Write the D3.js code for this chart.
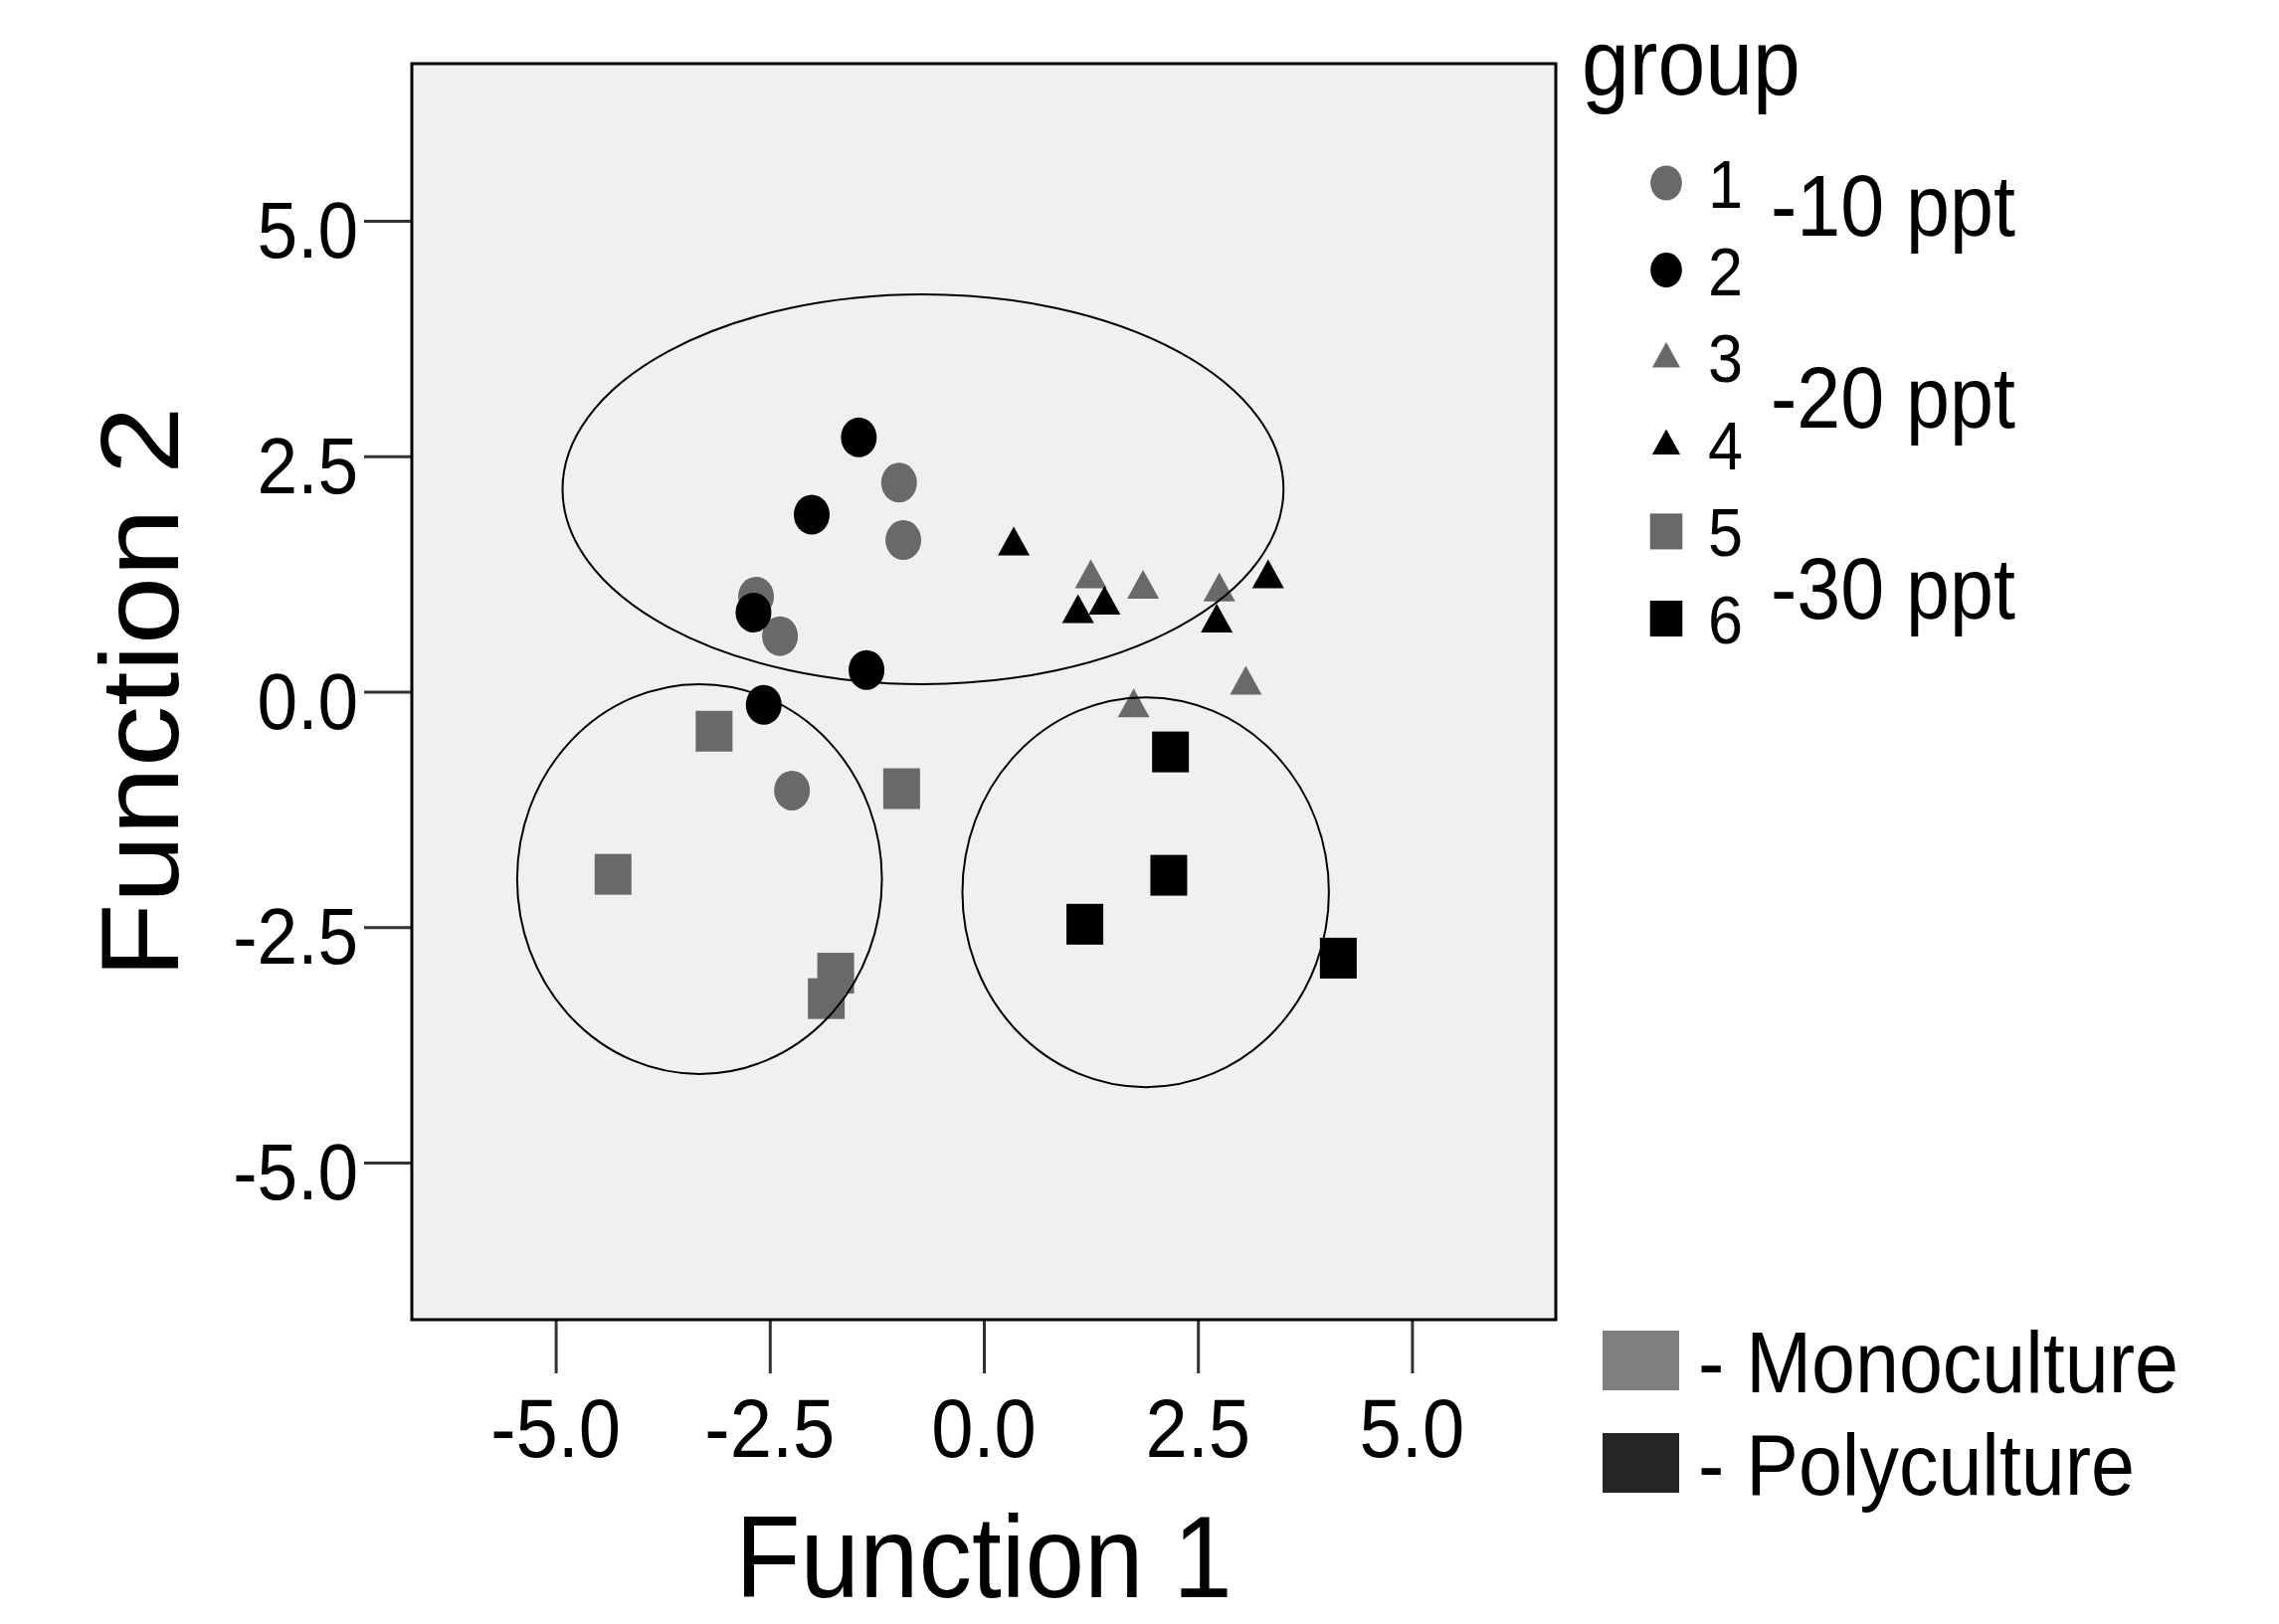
<!DOCTYPE html>
<html>
<head>
<meta charset="utf-8">
<script src="https://cdn.jsdelivr.net/npm/d3@7"></script>
<style>
  html, body { margin: 0; padding: 0; background: #ffffff; }
  svg { display: block; }
  text { font-family: "Liberation Sans", Arial, sans-serif; fill: #000; }
</style>
</head>
<body>
<div id="chart"></div>
<script>
// ---------- DATA ----------
const groupIds = [1, 2, 3, 4, 5, 6];
const groupShapes = ["circle", "circle", "triangle", "triangle", "square", "square"];
const groupColors = ["#696969", "#000000", "#696969", "#000000", "#696969", "#000000"];

const group1 = [[-0.99, 2.22], [-0.94, 1.61], [-2.66, 1.01], [-2.38, 0.59], [-2.24, -1.05]];
const group2 = [[-1.46, 2.70], [-2.01, 1.88], [-2.69, 0.84], [-1.37, 0.23], [-2.57, -0.14]];
const group3 = [[1.25, 1.22], [1.86, 1.11], [2.75, 1.08], [3.06, 0.09], [1.75, -0.15]];
const group4 = [[0.35, 1.57], [3.32, 1.22], [1.41, 0.94], [1.10, 0.85], [2.72, 0.75]];
const group5 = [[-3.15, -0.42], [-0.96, -1.03], [-4.33, -1.94], [-1.73, -2.99], [-1.84, -3.26]];
const group6 = [[2.18, -0.64], [2.16, -1.95], [1.18, -2.47], [4.14, -2.83]];
const groupPoints = [group1, group2, group3, group4, group5, group6];

// cluster ellipses: [cx, cy, rx, ry] in function units
const clusterEllipses = [[-0.71, 2.15, 4.21, 2.07], [-3.32, -1.99, 2.13, 2.07], [1.89, -2.13, 2.14, 2.07]];

const xTicks = [-5.0, -2.5, 0.0, 2.5, 5.0];
const yTicks = [5.0, 2.5, 0.0, -2.5, -5.0];
const xDomain = [-6.68, 6.68];
const yDomain = [-6.67, 6.67];

const xTitle = "Function 1";
const yTitle = "Function 2";
const legendTitle = "group";
const salinityLabels = ["-10 ppt", "-20 ppt", "-30 ppt"];
const cultureLabels = ["- Monoculture", "- Polyculture"];
const cultureColors = ["#808080", "#262626"];

// ---------- LAYOUT ----------
const W = 2291, H = 1633;
const plot = { left: 414, right: 1564, top: 64, bottom: 1327 };
const SY = 1.1; // vertical stretch of the original rendering

const svg = d3.select("#chart").append("svg").attr("width", W).attr("height", H);

const x = d3.scaleLinear().domain(xDomain).range([plot.left, plot.right]);
const y = d3.scaleLinear().domain(yDomain).range([plot.bottom, plot.top]);

function addText(g, tx, ty, str, size, anchor, rotate) {
  const t = g.append("text")
    .attr("transform", `translate(${tx},${ty})` + (rotate ? ` rotate(${rotate})` : "") + (rotate ? ` scale(${SY},1)` : ` scale(1,${SY})`))
    .attr("font-size", size)
    .attr("text-anchor", anchor || "start")
    .text(str);
  return t;
}

// plot background
svg.append("rect")
  .attr("x", plot.left).attr("y", plot.top)
  .attr("width", plot.right - plot.left).attr("height", plot.bottom - plot.top)
  .attr("fill", "#f0f0f0");

// axes (ticks)
const xAxis = d3.axisBottom(x).tickValues(xTicks).tickSize(54).tickFormat("");
const gx = svg.append("g").attr("transform", `translate(0,${plot.bottom})`).call(xAxis);
gx.select(".domain").remove();
gx.selectAll(".tick line").attr("stroke", "#333").attr("stroke-width", 3);

const yAxis = d3.axisLeft(y).tickValues(yTicks).tickSize(48).tickFormat("");
const gy = svg.append("g").attr("transform", `translate(${plot.left},0)`).call(yAxis);
gy.select(".domain").remove();
gy.selectAll(".tick line").attr("stroke", "#333").attr("stroke-width", 3);

const fmt = d3.format(".1f");
const labels = svg.append("g");
xTicks.forEach(v => addText(labels, x(v), 1465, fmt(v).replace("−", "-"), 76, "middle"));
yTicks.forEach(v => addText(labels, 360, y(v) + 37, fmt(v).replace("−", "-"), 73, "end"));

// axis titles
addText(svg, 989, 1606, xTitle, 107, "middle");
addText(svg, 179, 696, yTitle, 112, "middle", -90);

// markers
const symSize = {
  circle: [36, 40],
  triangle: [32, 29],
  square: [37, 41]
};
function drawMarker(g, shape, cx, cy, color, scale) {
  const s = scale || 1;
  const [w, h] = symSize[shape].map(d => d * s);
  if (shape === "circle") {
    g.append("ellipse").attr("cx", cx).attr("cy", cy).attr("rx", w / 2).attr("ry", h / 2).attr("fill", color);
  } else if (shape === "square") {
    g.append("rect").attr("x", cx - w / 2).attr("y", cy - h / 2).attr("width", w).attr("height", h).attr("fill", color);
  } else {
    g.append("path")
      .attr("d", `M${cx},${cy - h * 0.6}L${cx + w / 2},${cy + h * 0.4}L${cx - w / 2},${cy + h * 0.4}Z`)
      .attr("fill", color);
  }
}

const marks = svg.append("g");
groupPoints.forEach((pts, gi) => {
  pts.forEach(p => drawMarker(marks, groupShapes[gi], x(p[0]), y(p[1]), groupColors[gi]));
});

// cluster ellipses
const kx = x(1) - x(0), ky = y(0) - y(1);
svg.append("g").selectAll("ellipse").data(clusterEllipses).join("ellipse")
  .attr("cx", d => x(d[0])).attr("cy", d => y(d[1]))
  .attr("rx", d => d[2] * kx).attr("ry", d => d[3] * ky)
  .attr("fill", "none").attr("stroke", "#000").attr("stroke-width", 2);

// frame
svg.append("rect")
  .attr("x", plot.left).attr("y", plot.top)
  .attr("width", plot.right - plot.left).attr("height", plot.bottom - plot.top)
  .attr("fill", "none").attr("stroke", "#000").attr("stroke-width", 3);

// legend (groups)
const leg = svg.append("g");
addText(leg, 1590, 95, legendTitle, 86, "start");
groupIds.forEach((id, i) => {
  const base = 209 + i * 87.6;
  drawMarker(leg, groupShapes[i], 1675, base - 25, groupColors[i], 0.88);
  addText(leg, 1717, base, String(id), 63, "start");
});
salinityLabels.forEach((s, i) => addText(leg, 1780, 237 + i * 192.5, s, 79, "start"));

// legend (culture)
cultureLabels.forEach((s, i) => {
  const top = 1338 + i * 103;
  leg.append("rect").attr("x", 1611).attr("y", top).attr("width", 77).attr("height", 60).attr("fill", cultureColors[i]);
  addText(leg, 1707, top + 62, s, 79, "start");
});
</script>
</body>
</html>
